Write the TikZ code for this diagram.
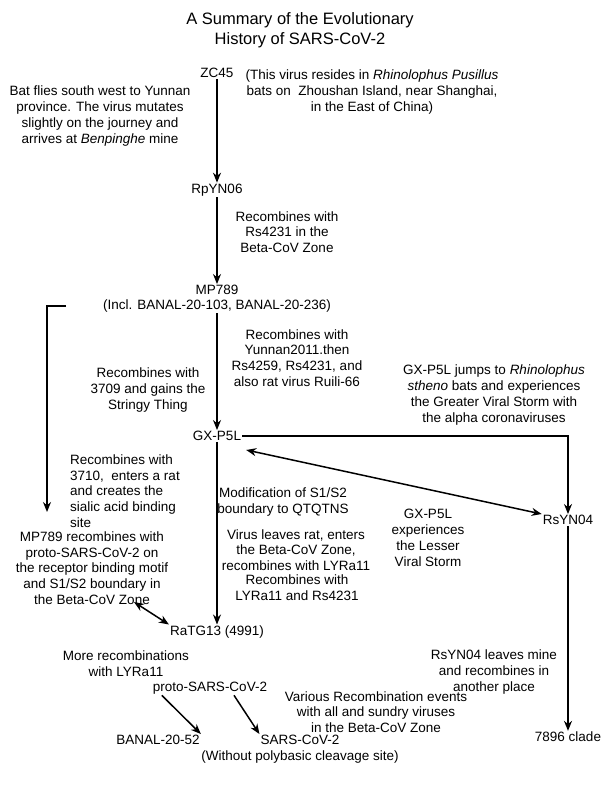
\documentclass[tikz,border=0pt]{standalone}
\usepackage{fontspec}
\setmainfont{Liberation Sans}
\usetikzlibrary{arrows.meta}
\begin{document}
\begin{tikzpicture}[x=1pt, y=-1pt,
          virus/.style={font=\fontsize{13.5}{15}\selectfont, inner sep=1pt},
          note/.style={font=\fontsize{13.5}{15.8}\selectfont, align=center, inner sep=0pt},
          link/.style={line width=1.5pt, -{Stealth[length=10pt, width=8pt]}},
          both/.style={line width=1.5pt, {Stealth[length=10pt, width=8pt]}-{Stealth[length=10pt, width=8pt]}}]
          \useasboundingbox (0,0) rectangle (600,800);
          \node[note, font=\fontsize{16.5}{20}\selectfont] (title) at (300,30) {A Summary of the Evolutionary\\History of SARS-CoV-2};
          % viruses
          \node[virus] (zc) at (217,73) {ZC45};
          \node[virus] (rpy) at (217,190) {RpYN06};
          \node[virus] (mp) at (217,290) {MP789};
          \node[virus] (mpx) at (217,306) {(Incl. BANAL-20-103, BANAL-20-236)};
          \node[virus] (gx) at (217,436) {GX-P5L};
          \node[virus] (rsy) at (568,520) {RsYN04};
          \node[virus] (ratg) at (217,632) {RaTG13 (4991)};
          \node[virus] (proto) at (210,688) {proto-SARS-CoV-2};
          \node[virus] (banal) at (158,740) {BANAL-20-52};
          \node[virus] (sars) at (300,740) {SARS-CoV-2};
          \node[virus] (sarsx) at (300,757) {(Without polybasic cleavage site)};
          \node[virus] (clade) at (568,737) {7896 clade};
          % notes
          \node[note] at (372,92) {(This virus resides in \textit{Rhinolophus Pusillus}\\bats on \ Zhoushan Island, near Shanghai,\\in the East of China)};
          \node[note] at (100,116) {Bat flies south west to Yunnan\\province. The virus mutates\\slightly on the journey and\\arrives at \textit{Benpinghe} mine};
          \node[note] at (287,232) {Recombines with\\Rs4231 in the\\Beta-CoV Zone};
          \node[note] at (297,358) {Recombines with\\Yunnan2011.then\\Rs4259, Rs4231, and\\also rat virus Ruili-66};
          \node[note] at (148,390) {Recombines with\\3709 and gains the\\Stringy Thing};
          \node[note] at (494,395) {GX-P5L jumps to \textit{Rhinolophus}\\\textit{stheno} bats and experiences\\the Greater Viral Storm with\\the alpha coronaviruses};
          \node[note, align=left, anchor=west] at (70,491) {Recombines with\\3710, \ enters a rat\\and creates the\\sialic acid binding\\site};
          \node[note] at (283,502) {Modification of S1/S2\\boundary to QTQTNS};
          \node[note] at (428,538) {GX-P5L\\experiences\\the Lesser\\Viral Storm};
          \node[note] at (296,550) {Virus leaves rat, enters\\the Beta-CoV Zone,\\recombines with LYRa11};
          \node[note] at (297,588) {Recombines with\\LYRa11 and Rs4231};
          \node[note] at (92,568) {MP789 recombines with\\proto-SARS-CoV-2 on\\the receptor binding motif\\and S1/S2 boundary in\\the Beta-CoV Zone};
          \node[note] at (126,664) {More recombinations\\with LYRa11};
          \node[note] at (376,712) {Various Recombination events\\with all and sundry viruses\\in the Beta-CoV Zone};
          \node[note] at (494,672) {RsYN04 leaves mine\\and recombines in\\another place};
          % connectors
          \coordinate (mpstart) at (66,306);
          \coordinate (mpturn) at (47,306);
          \coordinate (mpend) at (47,512);
          \coordinate (gxturn) at (568,436);
          \coordinate (mpnote) at (134,602);
          \draw[link] (zc) -- (rpy);
          \draw[link] (rpy) -- (mp);
          \draw[link] (mpx) -- (gx);
          \draw[link] (gx) -- (ratg);
          \draw[link] (gx.east) -- (gxturn) -- (rsy);
          \draw[both] (gx.south east) ++(4,8) coordinate (gxb) (gxb) -- (rsy.north west);
          \draw[link] (mpstart) -- (mpturn) -- (mpend);
          \draw[both] (mpnote) -- (ratg.north west);
          \draw[link] (proto.south west) ++(10,0) coordinate (pa) (pa) -- (banal.north east);
          \draw[link] (proto.south) ++(24,0) coordinate (pb) (pb) -- (sars.north west);
          \draw[link] (rsy) -- (clade);
      \end{tikzpicture}
\end{document}
